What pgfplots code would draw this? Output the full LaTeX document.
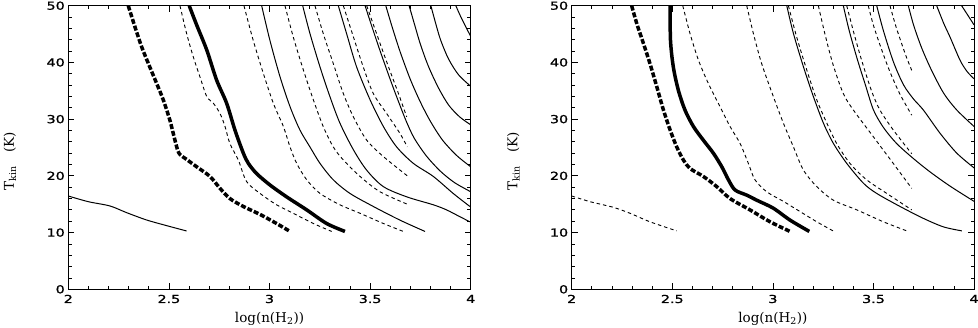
\documentclass[border=0pt]{standalone}
\usepackage{fontspec}
\usepackage{pgfplots}
\pgfplotsset{compat=1.18}
\newfontfamily\tickfont[FakeStretch=1.3,FakeBold=1.2]{DejaVu Sans}
\newfontfamily\labfont{DejaVu Serif}

\pgfplotsset{
  panel/.style={
    width=402.4pt, height=283.6pt, scale only axis,
    xmin=2, xmax=4, ymin=0, ymax=50,
    xtick={2,2.5,3,3.5,4}, ytick={0,10,...,50},
    minor x tick num=4, minor y tick num=4,
    major tick length=6pt, minor tick length=3.5pt,
    tick style={black, line width=0.8pt},
    axis line style={line width=0.9pt},
    ticklabel style={font=\tickfont\fontsize{11}{13}\selectfont},
    xticklabel style={yshift=-2pt},
    /pgf/number format/assume math mode=true,
    xlabel={log(n(H\textsubscript{2}))},
    ylabel={T\textsubscript{kin}\quad(K)},
    label style={font=\labfont\fontsize{13.5}{15}\selectfont},
    xlabel style={at={(axis description cs:0.5,-0.105)}, anchor=center},
    ylabel style={at={(axis description cs:-0.145,0.452)}, anchor=center},
  },
  thin/.style={black, line width=1pt, smooth, tension=0.5},
  thind/.style={black, line width=0.9pt, dash pattern=on 3.5pt off 3pt, smooth, tension=0.5},
  thick/.style={black, line width=3.5pt, smooth, tension=0.5},
  thickd/.style={black, line width=3.5pt, dash pattern=on 5pt off 2pt, smooth, tension=0.5},
}

\begin{document}
\begin{tikzpicture}
% left panel
\begin{axis}[panel, at={(68.3pt,38.7pt)}, anchor=south west]
\addplot[thin] coordinates {(2.0,16.45)(2.099,15.45)(2.207,14.69)(2.290,13.51)(2.389,12.22)(2.489,11.22)(2.588,10.28)};
\addplot[thickd] coordinates {(2.298,50)(2.331,46.3)(2.364,42.8)(2.398,39.8)(2.439,36.3)(2.472,33.4)(2.505,29.8)(2.530,26.3)(2.550,24.0)(2.588,22.9)(2.638,21.6)(2.704,19.9)(2.754,17.8)(2.803,16.0)(2.870,14.6)(2.953,13.2)(3.035,11.6)(3.102,10.2)};
\addplot[thind] coordinates {(2.555,50)(2.588,45.1)(2.621,41.0)(2.654,37.5)(2.688,34.0)(2.721,32.8)(2.754,31.0)(2.779,28.7)(2.803,25.7)(2.845,22.8)(2.886,19.0)(2.953,16.9)(3.035,14.9)(3.118,13.4)(3.218,11.6)(3.309,10.2)};
\addplot[thick] coordinates {(2.601,50)(2.638,46.6)(2.688,42.2)(2.737,36.9)(2.787,32.8)(2.828,28.1)(2.870,24.0)(2.895,22.2)(2.936,20.4)(3.002,18.4)(3.085,16.3)(3.185,14.0)(3.284,11.6)(3.375,10.2)};
\addplot[thind] coordinates {(2.873,50)(2.919,43.9)(2.969,38.1)(3.019,32.8)(3.069,28.7)(3.102,25.1)(3.135,22.2)(3.185,19.3)(3.251,16.9)(3.350,14.9)(3.450,13.4)(3.566,11.6)(3.665,10.2)};
\addplot[thin] coordinates {(2.961,50)(3.002,43.9)(3.052,37.5)(3.102,32.2)(3.151,28.1)(3.201,25.1)(3.251,22.2)(3.317,19.3)(3.400,16.9)(3.516,14.6)(3.648,12.2)(3.773,10.2)};
\addplot[thind] coordinates {(3.077,50)(3.118,44.5)(3.168,38.7)(3.218,33.4)(3.267,28.7)(3.317,25.1)(3.367,22.8)(3.450,19.9)(3.549,17.2)(3.685,15.0)};
\addplot[thin] coordinates {(3.165,50)(3.201,45.1)(3.251,39.2)(3.300,34.0)(3.350,29.3)(3.417,24.6)(3.483,21.0)(3.566,18.1)(3.682,16.3)(3.814,14.9)(3.880,14.0)(3.946,12.8)(3.996,11.9)};
\addplot[thind] coordinates {(3.226,50)(3.267,45.1)(3.317,39.8)(3.367,34.5)(3.417,30.4)(3.483,26.3)(3.566,23.4)(3.685,20.0)};
\addplot[thin] coordinates {(3.342,50)(3.383,45.1)(3.433,39.2)(3.500,33.4)(3.566,28.7)(3.632,25.1)(3.715,22.2)(3.814,19.9)(3.913,16.9)(3.996,14.6)};
\addplot[thind] coordinates {(3.367,50)(3.417,44.5)(3.466,39.2)(3.516,34.5)(3.582,31.0)(3.648,27.5)(3.685,25.1)};
\addplot[thind] coordinates {(3.483,50)(3.52,46.3)(3.56,42.3)(3.60,38.4)(3.64,34.6)(3.682,30.4)};
\addplot[thin] coordinates {(3.475,50)(3.51,46.2)(3.55,42.0)(3.6,37.0)(3.64,33.2)(3.68,29.6)(3.72,26.6)(3.78,23.5)(3.85,20.8)(3.92,18.8)(4.0,17.2)};
\addplot[thin] coordinates {(3.578,50)(3.61,46.2)(3.65,41.8)(3.7,37.0)(3.75,33.0)(3.8,29.6)(3.86,26.3)(3.93,23.6)(4.0,21.6)};
\addplot[thin] coordinates {(3.694,50)(3.72,46.8)(3.75,43.2)(3.79,39.3)(3.84,35.5)(3.89,32.5)(3.945,30.4)(4.0,29.0)};
\addplot[thin] coordinates {(3.802,50)(3.825,47.0)(3.85,44.0)(3.89,40.6)(3.94,37.8)(4.0,35.8)};
\addplot[thin] coordinates {(3.926,50)(3.95,48.1)(3.975,46.3)(4.0,44.6)};
\end{axis}
% right panel
\begin{axis}[panel, at={(571.7pt,38.7pt)}, anchor=south west]
\addplot[thind] coordinates {(2.0,16.45)(2.091,15.45)(2.207,14.45)(2.290,13.4)(2.389,11.9)(2.522,10.3)};
\addplot[thickd] coordinates {(2.298,50)(2.323,46.9)(2.356,43.4)(2.389,39.8)(2.423,35.7)(2.456,31.6)(2.489,28.1)(2.522,25.1)(2.555,22.8)(2.588,21.3)(2.654,19.9)(2.721,18.1)(2.787,16.0)(2.886,14.0)(2.986,11.9)(3.085,10.2)};
\addplot[thick] coordinates {(2.489,50)(2.491,43.9)(2.505,39.2)(2.530,35.1)(2.563,31.6)(2.605,28.7)(2.654,26.3)(2.704,24.0)(2.746,21.6)(2.779,19.3)(2.812,17.5)(2.870,16.6)(2.920,15.7)(3.002,14.3)(3.085,12.2)(3.181,10.2)};
\addplot[thind] coordinates {(2.552,50)(2.588,45.1)(2.630,40.4)(2.679,36.3)(2.737,32.2)(2.787,28.7)(2.837,25.7)(2.878,22.2)(2.911,19.3)(2.969,17.2)(3.052,15.5)(3.135,13.7)(3.218,11.9)(3.304,10.2)};
\addplot[thind] coordinates {(2.870,50)(2.903,45.1)(2.944,39.8)(3.002,34.0)(3.052,29.3)(3.102,25.1)(3.152,21.0)(3.218,18.1)(3.301,15.7)(3.417,14.0)(3.549,11.9)(3.665,10.3)};
\addplot[thin] coordinates {(3.069,50)(3.102,45.1)(3.152,39.2)(3.201,34.0)(3.251,29.3)(3.301,25.7)(3.367,22.2)(3.450,18.7)(3.516,16.9)(3.632,14.6)(3.748,12.5)(3.848,11.0)(3.939,10.3)};
\addplot[thind] coordinates {(3.077,50)(3.118,44.5)(3.168,38.7)(3.218,33.4)(3.268,29.3)(3.317,25.7)(3.383,22.2)(3.466,19.3)(3.566,16.9)(3.690,14.0)};
\addplot[thind] coordinates {(3.226,50)(3.26,44.8)(3.3,39.5)(3.35,34.5)(3.4,31.6)(3.499,26.9)(3.598,22.2)(3.690,17.8)};
\addplot[thin] coordinates {(3.350,50)(3.38,45.5)(3.42,40.5)(3.46,36.0)(3.5,31.6)(3.55,28.5)(3.615,25.7)(3.7,23.0)(3.781,20.7)(3.88,18.2)(4.0,15.5)};
\addplot[thind] coordinates {(3.367,50)(3.4,45.5)(3.44,40.5)(3.49,35.0)(3.532,31.6)(3.598,28.1)(3.690,23.9)};
\addplot[thind] coordinates {(3.474,50)(3.5,46.5)(3.54,42.3)(3.58,38.5)(3.63,34.5)(3.690,30.7)};
\addplot[thin] coordinates {(3.516,50)(3.55,45.5)(3.6,40.0)(3.65,36.0)(3.7,33.5)(3.748,31.6)(3.831,27.5)(3.914,24.0)(4.0,21.4)};
\addplot[thind] coordinates {(3.582,50)(3.61,46.5)(3.64,43.3)(3.665,40.8)(3.690,38.6)};
\addplot[thin] coordinates {(3.673,50)(3.7,46.5)(3.74,42.5)(3.79,38.5)(3.85,34.5)(3.914,31.6)(4.0,28.7)};
\addplot[thin] coordinates {(3.814,50)(3.85,46.8)(3.88,44.5)(3.93,40.4)(3.965,38.4)(4.0,37.1)};
\addplot[thin] coordinates {(3.938,50)(3.96,48.8)(3.98,47.7)(4.0,46.6)};
\end{axis}
\pgfresetboundingbox
\path[use as bounding box] (0,0) rectangle (978pt,328pt);
\end{tikzpicture}
\end{document}
